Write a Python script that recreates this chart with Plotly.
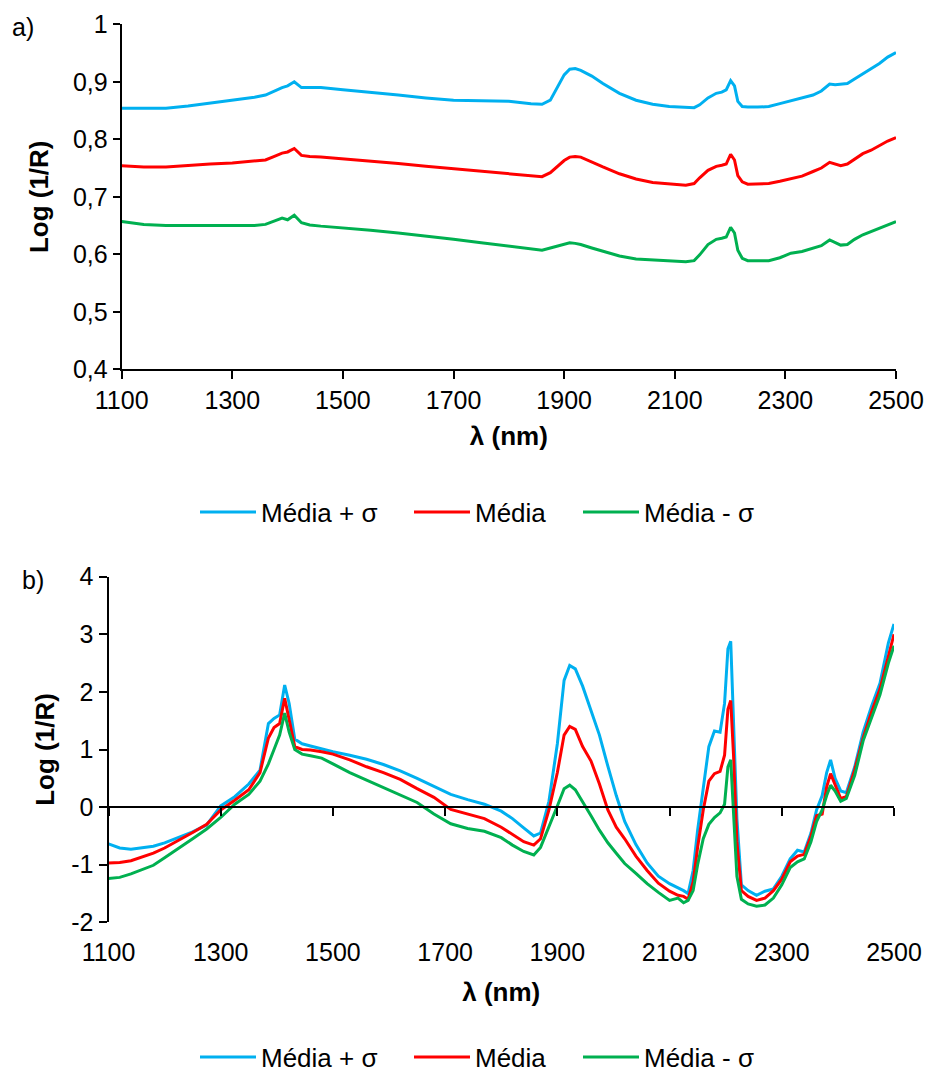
import plotly.graph_objects as go

# ---------------- data: panel a ----------------
wl_a = [1100, 1140, 1180, 1220, 1260, 1300, 1340, 1360, 1375, 1390, 1400, 1412, 1425, 1440, 1460,
        1500, 1550, 1600, 1650, 1700, 1750, 1800, 1840, 1860, 1875, 1890, 1900, 1910, 1920, 1930,
        1950, 1970, 2000, 2030, 2060, 2090, 2120, 2135, 2145, 2160, 2175, 2185, 2193, 2201, 2208,
        2214, 2222, 2232, 2250, 2270, 2290, 2310, 2330, 2350, 2365, 2380, 2390, 2400, 2412, 2425,
        2440, 2455, 2470, 2485, 2500]

a_plus = [0.854, 0.854, 0.854, 0.858, 0.863, 0.867, 0.873, 0.877, 0.884, 0.890, 0.893, 0.900, 0.890, 0.890, 0.890,
          0.886, 0.882, 0.877, 0.872, 0.868, 0.867, 0.866, 0.862, 0.861, 0.868, 0.894, 0.912, 0.922, 0.923, 0.920,
          0.910, 0.897, 0.880, 0.868, 0.861, 0.857, 0.855, 0.855, 0.860, 0.872, 0.880, 0.882, 0.886, 0.902, 0.893,
          0.866, 0.857, 0.856, 0.856, 0.857, 0.862, 0.867, 0.871, 0.877, 0.884, 0.896, 0.895, 0.896, 0.897, 0.905,
          0.914, 0.922, 0.932, 0.943, 0.951]

a_mean = [0.754, 0.752, 0.752, 0.755, 0.757, 0.759, 0.762, 0.764, 0.770, 0.776, 0.778, 0.784, 0.772, 0.770, 0.769,
          0.766, 0.762, 0.758, 0.753, 0.749, 0.745, 0.741, 0.737, 0.735, 0.742, 0.755, 0.763, 0.769, 0.770, 0.769,
          0.760, 0.752, 0.740, 0.731, 0.725, 0.722, 0.720, 0.723, 0.733, 0.746, 0.753, 0.755, 0.757, 0.774, 0.764,
          0.737, 0.726, 0.722, 0.722, 0.723, 0.727, 0.732, 0.736, 0.744, 0.750, 0.760, 0.757, 0.754, 0.757, 0.766,
          0.775, 0.781, 0.789, 0.797, 0.803]

a_minus = [0.657, 0.652, 0.650, 0.650, 0.650, 0.650, 0.650, 0.652, 0.658, 0.663, 0.660, 0.668, 0.655, 0.651, 0.649,
           0.646, 0.642, 0.637, 0.632, 0.626, 0.620, 0.614, 0.609, 0.607, 0.611, 0.615, 0.618, 0.620, 0.619, 0.617,
           0.611, 0.605, 0.597, 0.592, 0.590, 0.588, 0.587, 0.589, 0.599, 0.617, 0.626, 0.628, 0.630, 0.647, 0.637,
           0.607, 0.593, 0.589, 0.589, 0.589, 0.594, 0.602, 0.605, 0.610, 0.615, 0.625, 0.621, 0.616, 0.617, 0.626,
           0.634, 0.640, 0.646, 0.652, 0.657]

# ---------------- data: panel b ----------------
wl_b = [1100, 1120, 1140, 1160, 1180, 1200, 1225, 1250, 1275, 1300, 1325, 1350, 1370, 1385, 1395,
        1405, 1414, 1422, 1432, 1445, 1460, 1480, 1500, 1530, 1560, 1590, 1620, 1650, 1680, 1710,
        1740, 1770, 1800, 1820, 1840, 1858, 1870, 1885, 1900, 1912, 1922, 1932, 1945, 1960, 1975,
        1990, 2005, 2020, 2040, 2060, 2080, 2100, 2115, 2125, 2133, 2142, 2150, 2160, 2170, 2180,
        2190, 2198, 2204, 2209, 2214, 2220, 2228, 2240, 2255, 2270, 2285, 2300, 2315, 2328, 2340,
        2352, 2362, 2372, 2380, 2387, 2395, 2405, 2415, 2430, 2445, 2460, 2475, 2490, 2500]

b_plus = [-0.64, -0.71, -0.73, -0.71, -0.68, -0.62, -0.53, -0.43, -0.31, 0.02, 0.18, 0.40, 0.64, 1.45, 1.54,
          1.60, 2.12, 1.80, 1.18, 1.10, 1.06, 1.01, 0.96, 0.90, 0.83, 0.74, 0.63, 0.50, 0.36, 0.22,
          0.13, 0.05, -0.07, -0.20, -0.36, -0.50, -0.45, 0.10, 1.10, 2.20, 2.46, 2.40, 2.10, 1.68, 1.25,
          0.71, 0.20, -0.25, -0.65, -0.97, -1.20, -1.33, -1.40, -1.45, -1.50, -1.10, -0.40, 0.30, 1.05, 1.32,
          1.30, 1.80, 2.75, 2.88, 1.60, -0.20, -1.35, -1.45, -1.53, -1.46, -1.42, -1.20, -0.90, -0.75, -0.78,
          -0.45, -0.05, 0.20, 0.60, 0.82, 0.50, 0.28, 0.25, 0.70, 1.30, 1.75, 2.15, 2.85, 3.18]

b_mean = [-0.97, -0.96, -0.93, -0.86, -0.80, -0.71, -0.58, -0.44, -0.30, -0.05, 0.12, 0.30, 0.60, 1.20, 1.38,
          1.45, 1.89, 1.50, 1.05, 1.00, 0.99, 0.96, 0.92, 0.82, 0.70, 0.60, 0.48, 0.32, 0.17, -0.04,
          -0.12, -0.20, -0.35, -0.47, -0.60, -0.66, -0.55, -0.05, 0.60, 1.25, 1.40, 1.35, 1.05, 0.80, 0.40,
          -0.05, -0.35, -0.55, -0.85, -1.10, -1.32, -1.46, -1.53, -1.55, -1.60, -1.30, -0.70, -0.05, 0.45, 0.58,
          0.62, 0.90, 1.70, 1.85, 0.90, -0.60, -1.45, -1.55, -1.62, -1.58, -1.45, -1.25, -0.95, -0.85, -0.82,
          -0.50, -0.15, -0.12, 0.35, 0.58, 0.40, 0.15, 0.18, 0.65, 1.20, 1.65, 2.05, 2.65, 3.00]

b_minus = [-1.24, -1.22, -1.16, -1.08, -1.01, -0.88, -0.72, -0.55, -0.38, -0.18, 0.05, 0.22, 0.45, 0.75, 1.00,
           1.25, 1.63, 1.30, 1.00, 0.92, 0.89, 0.85, 0.75, 0.60, 0.47, 0.34, 0.22, 0.08, -0.12, -0.29,
           -0.37, -0.42, -0.53, -0.66, -0.77, -0.83, -0.70, -0.35, 0.02, 0.32, 0.38, 0.30, 0.10, -0.15, -0.40,
           -0.62, -0.80, -0.98, -1.15, -1.33, -1.48, -1.62, -1.58, -1.66, -1.62, -1.45, -1.00, -0.55, -0.30, -0.18,
           -0.10, 0.05, 0.70, 0.82, -0.10, -1.20, -1.60, -1.68, -1.72, -1.70, -1.58, -1.35, -1.05, -0.95, -0.90,
           -0.60, -0.25, -0.05, 0.20, 0.38, 0.28, 0.10, 0.15, 0.55, 1.15, 1.55, 1.95, 2.50, 2.80]

series_names = ["Média + σ", "Média", "Média - σ"]
series_colors = ["#00B0F0", "#FF0000", "#00B050"]
legend_widths = [143, 98, None]

x_ticks = [1100, 1300, 1500, 1700, 1900, 2100, 2300, 2500]
ya_vals = [0.4, 0.5, 0.6, 0.7, 0.8, 0.9, 1.0]
ya_text = ["0,4", "0,5", "0,6", "0,7", "0,8", "0,9", "1"]
yb_vals = [-2, -1, 0, 1, 2, 3, 4]
yb_text = ["-2", "-1", "0", "1", "2", "3", "4"]

# ---------------- layout geometry ----------------
W, H = 927, 1075
FONT = "Liberation Sans, Arial, sans-serif"
xa_dom = [121.7 / W, 896 / W]
ya_dom = [1 - 369.3 / H, 1 - 24.3 / H]
xb_dom = [108.5 / W, 894 / W]
yb_dom = [1 - 922.3 / H, 1 - 576.7 / H]
yb_range = [-2, 4]
zero_pos = yb_dom[0] + (0 - yb_range[0]) / (yb_range[1] - yb_range[0]) * (yb_dom[1] - yb_dom[0])

fig = go.Figure()
for name, col, vals, lw in zip(series_names, series_colors, [a_plus, a_mean, a_minus], legend_widths):
    fig.add_trace(go.Scatter(x=wl_a, y=vals, mode="lines", name=name,
                             line=dict(color=col, width=3), xaxis="x", yaxis="y",
                             legend="legend", legendwidth=lw))
for name, col, vals, lw in zip(series_names, series_colors, [b_plus, b_mean, b_minus], legend_widths):
    fig.add_trace(go.Scatter(x=wl_b, y=vals, mode="lines", name=name,
                             line=dict(color=col, width=3), xaxis="x2", yaxis="y2",
                             legend="legend2", legendwidth=lw))
# empty trace anchoring the zero-line axis of panel b
fig.add_trace(go.Scatter(x=[], y=[], xaxis="x3", yaxis="y2", showlegend=False, hoverinfo="skip"))

tick_font = dict(family=FONT, size=25, color="black")
title_font = dict(family=FONT, size=26, color="black", weight="bold")
legend_font = dict(family=FONT, size=26, color="black")

common = dict(showgrid=False, zeroline=False, automargin=False)

fig.update_layout(
    width=W, height=H,
    margin=dict(l=0, r=0, t=0, b=0, autoexpand=False),
    paper_bgcolor="white", plot_bgcolor="white",
    font=dict(family=FONT, color="black"),
    xaxis=dict(domain=xa_dom, anchor="y", range=[1100, 2500], tickvals=x_ticks,
               showline=True, linecolor="black", linewidth=2, ticks="outside",
               ticklen=8, tickwidth=2, tickcolor="black",
               tickfont=tick_font, title=dict(text="λ (nm)", font=title_font, standoff=14), **common),
    yaxis=dict(domain=ya_dom, anchor="x", range=[0.4, 1.0], tickvals=ya_vals, ticktext=ya_text,
               showline=True, linecolor="black", linewidth=2, ticks="outside",
               ticklen=7, tickwidth=2, tickcolor="black",
               tickfont=tick_font, title=dict(text="Log (1/R)", font=title_font, standoff=17), **common),
    xaxis2=dict(domain=xb_dom, anchor="y2", range=[1100, 2500], tickvals=x_ticks,
                showline=False, ticks="outside", ticklen=8, tickcolor="rgba(0,0,0,0)",
                tickfont=tick_font, title=dict(text="λ (nm)", font=title_font, standoff=17), **common),
    xaxis3=dict(domain=xb_dom, overlaying="x2", anchor="free", position=zero_pos,
                range=[1100, 2500], tickvals=x_ticks, showticklabels=False,
                showline=True, linecolor="black", linewidth=2, ticks="outside",
                ticklen=8, tickwidth=2, tickcolor="black", **common),
    yaxis2=dict(domain=yb_dom, anchor="x2", range=yb_range, tickvals=yb_vals, ticktext=yb_text,
                showline=True, linecolor="black", linewidth=2, ticks="outside",
                ticklen=8, tickwidth=2, tickcolor="black",
                tickfont=tick_font, title=dict(text="Log (1/R)", font=title_font, standoff=9), **common),
    legend=dict(orientation="h", x=477 / W, xanchor="center", y=1 - 512 / H, yanchor="middle",
                font=legend_font, bgcolor="rgba(0,0,0,0)", itemwidth=56),
    legend2=dict(orientation="h", x=477 / W, xanchor="center", y=1 - 1057 / H, yanchor="middle",
                 font=legend_font, bgcolor="rgba(0,0,0,0)", itemwidth=56),
    annotations=[
        dict(text="a)", x=10 / W, y=1 - 27 / H, xref="paper", yref="paper", xanchor="left",
             yanchor="middle", showarrow=False, font=dict(family=FONT, size=25, color="black")),
        dict(text="b)", x=20 / W, y=1 - 580 / H, xref="paper", yref="paper", xanchor="left",
             yanchor="middle", showarrow=False, font=dict(family=FONT, size=25, color="black")),
    ],
)

fig.write_html("out.html")
